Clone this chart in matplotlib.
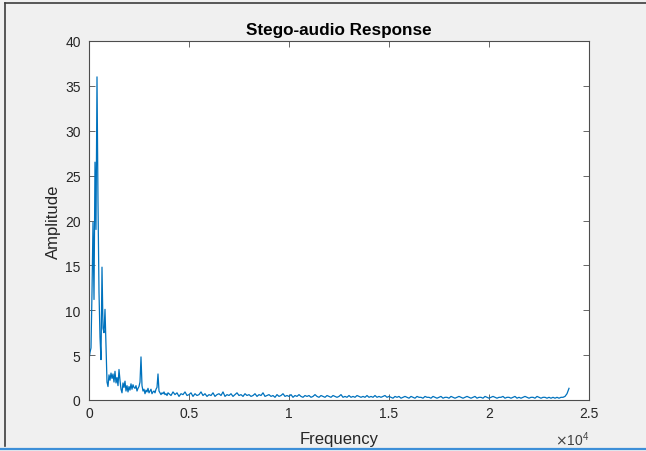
import numpy as np
import matplotlib
matplotlib.use("Agg")
import matplotlib.pyplot as plt
from matplotlib.lines import Line2D
from matplotlib.ticker import FixedLocator, FuncFormatter

# ---- data ----
# low-frequency part, 50 Hz spacing (0 .. 3950 Hz)
freq_low = list(range(0, 4000, 50))
amp_low = [
    4.5, 5.3, 5.8, 12.0, 19.8, 11.2, 26.5, 19.0, 36.0, 22.0,
    12.0, 7.0, 4.5, 14.8, 8.0, 7.5, 10.1, 6.0, 2.0, 1.5,
    2.8, 2.2, 3.0, 2.4, 2.9, 2.0, 3.2, 1.9, 2.5, 1.6,
    3.4, 2.2, 1.2, 0.8, 1.9, 1.4, 2.1, 1.0, 1.6, 0.9,
    1.5, 1.1, 1.8, 1.2, 1.7, 1.4, 1.3, 1.6, 1.0, 1.3,
    1.5, 2.0, 4.8, 1.6, 1.0, 1.2, 0.7, 1.1, 0.9, 1.3,
    0.8, 1.0, 1.2, 0.7, 0.9, 1.0, 0.8, 1.2, 1.4, 2.9,
    1.0, 0.8, 0.6, 0.8, 0.7, 0.9, 0.6, 0.7, 0.5, 0.8,
]
# higher-frequency part, 100 Hz spacing (4000 .. 24000 Hz)
freq_high = list(range(4000, 24001, 100))
amp_high = [
    0.7, 0.5, 0.9, 0.6, 0.8, 0.4, 0.7, 0.6, 0.9, 0.5,
    0.6, 0.8, 0.4, 0.7, 0.5, 0.6, 0.9, 0.5, 0.7, 0.4,
    0.6, 0.5, 0.8, 0.4, 0.6, 0.7, 0.5, 0.9, 0.4, 0.6,
    0.5, 0.7, 0.4, 0.6, 0.8, 0.5, 0.6, 0.4, 0.7, 0.5,
    0.6, 0.4, 0.5, 0.7, 0.4, 0.6, 0.5, 0.8, 0.4, 0.5,
    0.6, 0.4, 0.5, 0.3, 0.6, 0.4, 0.5, 0.7, 0.4, 0.5,
    0.4, 0.6, 0.3, 0.5, 0.4, 0.6, 0.4, 0.3, 0.5, 0.4,
    0.5, 0.3, 0.4, 0.6, 0.4, 0.3, 0.5, 0.4, 0.3, 0.5,
    0.4, 0.3, 0.5, 0.4, 0.3, 0.4, 0.6, 0.3, 0.4, 0.3,
    0.5, 0.3, 0.4, 0.3, 0.5, 0.4, 0.3, 0.4, 0.3, 0.5,
    0.3, 0.4, 0.3, 0.5, 0.3, 0.4, 0.3, 0.4, 0.5, 0.3,
    0.4, 0.3, 0.2, 0.4, 0.3, 0.4, 0.2, 0.3, 0.4, 0.3,
    0.2, 0.4, 0.3, 0.2, 0.4, 0.3, 0.3, 0.2, 0.4, 0.3,
    0.3, 0.2, 0.4, 0.3, 0.2, 0.3, 0.4, 0.2, 0.3, 0.3,
    0.2, 0.4, 0.3, 0.2, 0.3, 0.4, 0.3, 0.2, 0.3, 0.4,
    0.3, 0.2, 0.3, 0.4, 0.2, 0.3, 0.3, 0.2, 0.4, 0.3,
    0.2, 0.3, 0.4, 0.3, 0.2, 0.3, 0.3, 0.4, 0.2, 0.3,
    0.3, 0.2, 0.3, 0.4, 0.2, 0.3, 0.2, 0.3, 0.4, 0.3,
    0.2, 0.3, 0.3, 0.2, 0.4, 0.3, 0.2, 0.3, 0.3, 0.2,
    0.3, 0.2, 0.3, 0.2, 0.3, 0.2, 0.3, 0.3, 0.4, 0.7,
    1.3,
]
freq = np.array(freq_low + freq_high, dtype=float)
amp = np.array(amp_low + amp_high, dtype=float)

xticks = [0, 5000, 10000, 15000, 20000, 25000]
yticks = [0, 5, 10, 15, 20, 25, 30, 35, 40]

title = "Stego-audio Response"
xlabel = "Frequency"
ylabel = "Amplitude"

# ---- figure ----
plt.rcParams['font.family'] = ['Liberation Sans', 'DejaVu Sans']
W, H = 646, 452
fig = plt.figure(figsize=(W / 100, H / 100), dpi=100, facecolor='#f0f0f0')
ax = fig.add_axes([89 / W, (H - 401) / H, 500 / W, 359 / H])
ax.set_facecolor('white')

ax.plot(freq, amp, color='#0072BD', linewidth=0.9)

ax.set_xlim(0, 25000)
ax.set_ylim(0, 40)
ax.xaxis.set_major_locator(FixedLocator(xticks))
ax.yaxis.set_major_locator(FixedLocator(yticks))
ax.xaxis.set_major_formatter(FuncFormatter(lambda v, p: "%g" % (v / 1e4)))
ax.yaxis.set_major_formatter(FuncFormatter(lambda v, p: "%g" % v))

spine_c = '#4d4d4d'
for s in ax.spines.values():
    s.set_color(spine_c)
    s.set_linewidth(0.8)
ax.tick_params(direction='in', length=4, width=0.6, color=spine_c,
               labelcolor='#262626', labelsize=10, top=True, right=True)
ax.tick_params(axis='y', pad=6)
ax.tick_params(axis='x', pad=4)

ax.set_title(title, fontsize=12.3, fontweight='bold', color='black', pad=5)
ax.set_xlabel(xlabel, fontsize=12, color='#262626', labelpad=8)
ax.set_ylabel(ylabel, fontsize=12, color='#262626', labelpad=3)

ax.text(1.0, -0.082, r"$\times\mathregular{10^4}$", transform=ax.transAxes,
        ha='right', va='top', fontsize=10, color='#404040')

# window frame lines
fig.add_artist(Line2D([5 / W, 5 / W], [1 - 4 / H, 1 - 447 / H], transform=fig.transFigure,
                      color='#3c3c3c', linewidth=1.2))
fig.add_artist(Line2D([5 / W, 1], [1 - 4 / H, 1 - 4 / H], transform=fig.transFigure,
                      color='#3c3c3c', linewidth=1.2))
fig.add_artist(Line2D([0, 1], [1 - 449.5 / H, 1 - 449.5 / H], transform=fig.transFigure,
                      color='#3d8fd8', linewidth=1.6))

fig.savefig('out.png', dpi=100, facecolor=fig.get_facecolor())
